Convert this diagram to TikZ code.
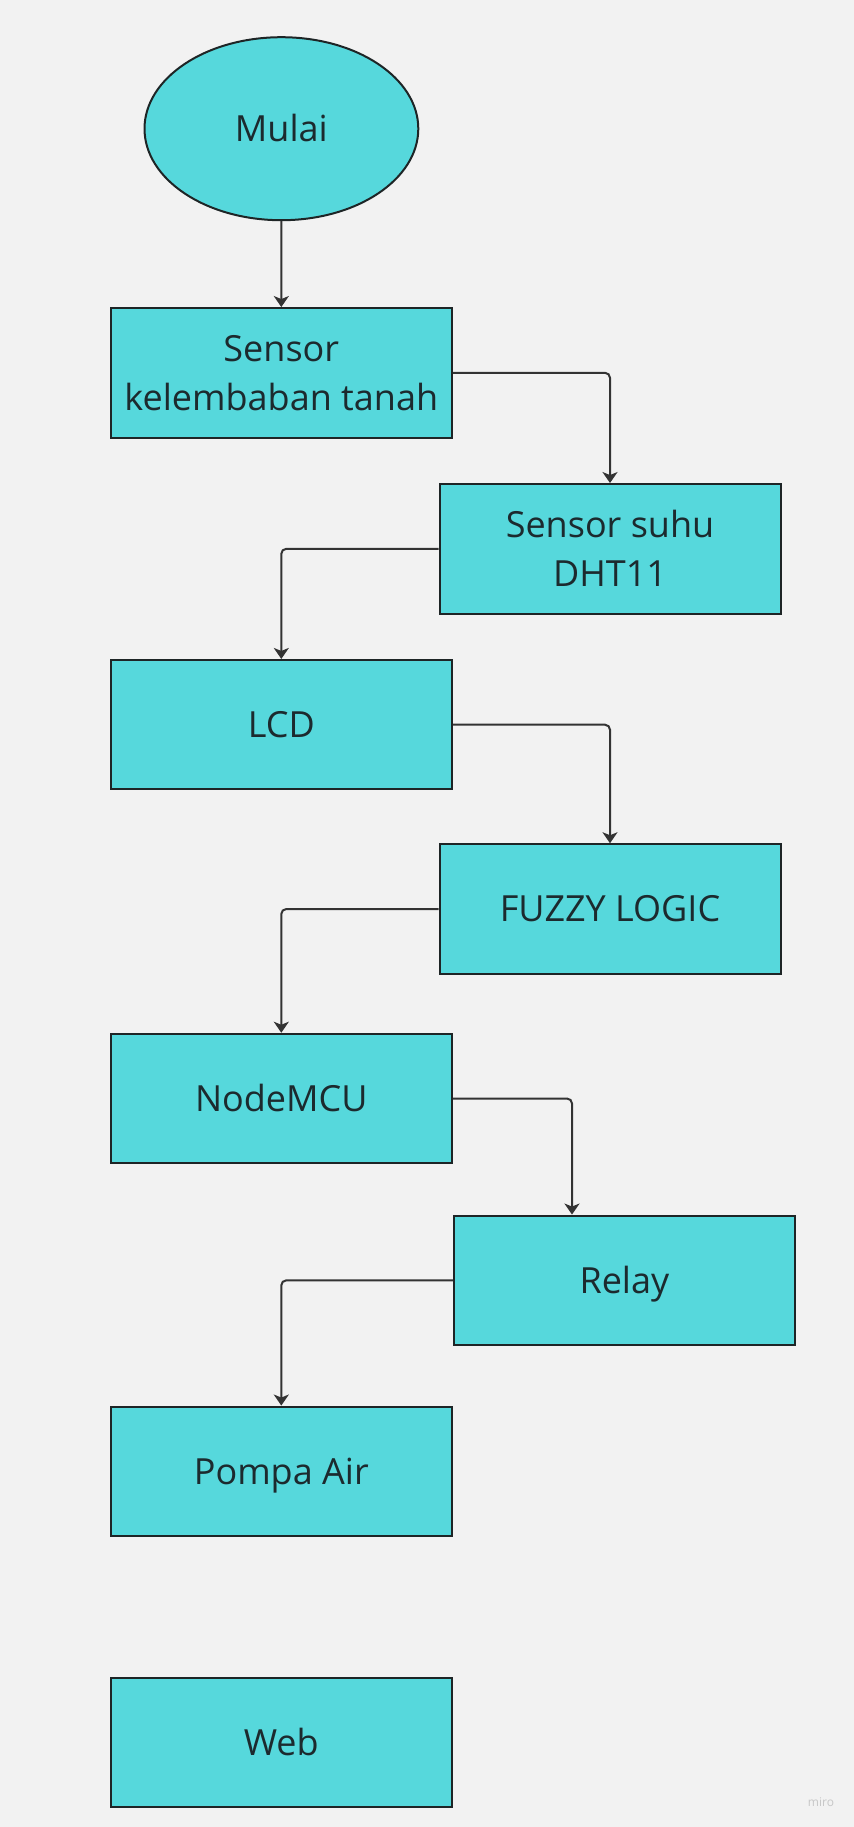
\documentclass[tikz,border=0pt]{standalone}
\usepackage{fontspec}
\setmainfont{Open Sans}
\usepackage{tikz}
\usetikzlibrary{calc}
\usetikzlibrary{positioning}
\usetikzlibrary{shapes.geometric}
\usetikzlibrary{arrows.meta}

\definecolor{bgcol}{HTML}{F2F2F2}
\definecolor{boxcol}{HTML}{56D8DC}
\definecolor{edgecol}{HTML}{1E2526}
\definecolor{linecol}{HTML}{333333}
\definecolor{txtcol}{HTML}{1C2A2E}

\begin{document}
\begin{tikzpicture}[x=0.5pt,y=-0.5pt,
    block/.style={draw=edgecol,line width=1pt,fill=boxcol,rectangle,
        minimum width=170.5pt,minimum height=64.75pt,inner sep=0pt,
        align=center,text=txtcol,font=\fontsize{18pt}{24.5pt}\selectfont},
    oneline/.style={text height=12.85pt,text depth=0pt},
    startnode/.style={block,oneline,ellipse,minimum width=136.9pt,minimum height=91.5pt},
    link/.style={draw=linecol,line width=1pt,rounded corners=2.5pt,
        -{Stealth[length=5.5pt,width=7.5pt,inset=1.5pt]}}]
    % background and page size
    \fill[bgcol] (0,0) rectangle (854,1827);
    \useasboundingbox (0,0) rectangle (854,1827);

    % blocks
    \node[startnode] (mulai) at (281.4,128.7) {Mulai};
    \node[block] (kelembaban) at (281.3,372.8) {Sensor\\kelembaban tanah};
    \node[block] (suhu) at (610,548.8) {Sensor suhu\\DHT11};
    \node[block,oneline] (lcd) at (281.3,724.7) {LCD};
    \node[block,oneline] (fuzzy) at (610,909) {FUZZY LOGIC};
    \node[block,oneline] (nodemcu) at (281.3,1098.5) {NodeMCU};
    \node[block,oneline] (relay) at (624.4,1280.3) {Relay};
    \node[block,oneline] (pompa) at (281.3,1471.3) {Pompa Air};
    \node[block,oneline] (web) at (281.3,1742.7) {Web};

    % connectors
    \draw[link] (mulai.south) -- (kelembaban.north);
    \draw[link] (kelembaban.east) -| (suhu.north);
    \draw[link] (suhu.west) -| (lcd.north);
    \draw[link] (lcd.east) -| (fuzzy.north);
    \draw[link] (fuzzy.west) -| (nodemcu.north);
    \draw[link] (nodemcu.east) -| ([xshift=-26.2pt]relay.north);
    \draw[link] (relay.west) -| (pompa.north);

    \node[text=black!22,font=\fontsize{6pt}{7pt}\selectfont] (miro) at (821,1802) {miro};
\end{tikzpicture}
\end{document}
